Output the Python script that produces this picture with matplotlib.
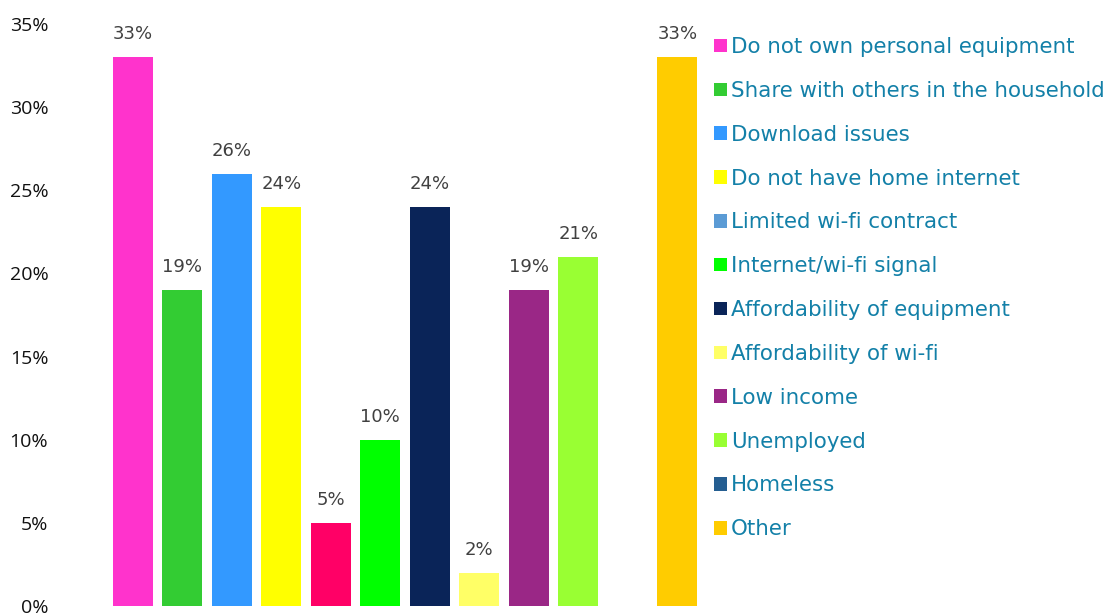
import matplotlib.pyplot as plt
from matplotlib.patches import Patch
from matplotlib.ticker import FuncFormatter

categories = ["Do not own personal equipment", "Share with others in the household",
              "Download issues", "Do not have home internet", "Limited wi-fi contract",
              "Internet/wi-fi signal", "Affordability of equipment", "Affordability of wi-fi",
              "Low income", "Unemployed", "Homeless", "Other"]
values = [33, 19, 26, 24, 5, 10, 24, 2, 19, 21, 0, 33]
bar_colors = ["#FF33CC", "#33CC33", "#3399FF", "#FFFF00", "#FF0066", "#00FF00",
              "#0A2458", "#FFFF66", "#9A2786", "#99FF33", "#255E91", "#FFCC00"]
legend_colors = ["#FF33CC", "#33CC33", "#3399FF", "#FFFF00", "#5B9BD5", "#00FF00",
                 "#0A2458", "#FFFF66", "#9A2786", "#99FF33", "#255E91", "#FFCC00"]
yticks = [0, 5, 10, 15, 20, 25, 30, 35]

fig = plt.figure(figsize=(11.12, 6.15), dpi=100)
ax = fig.add_axes([108 / 1112, 9 / 615, 594 / 1112, 582 / 615])

x = range(len(values))
bars = ax.bar(x, values, width=0.81, color=bar_colors)
for xi, v in zip(x, values):
    if v > 0:
        ax.annotate(f"{v}%", (xi, v), xytext=(0, 10), textcoords="offset points",
                    ha="center", va="bottom", fontsize=13, color="#404040")

ax.set_xlim(-0.5, len(values) - 0.5)
ax.set_ylim(0, 35)
ax.set_yticks(yticks)
ax.yaxis.set_major_formatter(FuncFormatter(lambda v, p: f"{v:.0f}%"))
ax.set_xticks([])
ax.tick_params(axis="y", length=0, pad=43, labelsize=14)
for lbl in ax.get_yticklabels():
    lbl.set_family("Open Sans")
    lbl.set_color("#111111")
for s in ax.spines.values():
    s.set_visible(False)

handles = [Patch(facecolor=c, edgecolor="none") for c in legend_colors]
leg = fig.legend(handles, categories, loc="upper left", bbox_to_anchor=(714 / 1112, 1 - 37 / 615),
                 frameon=False, fontsize=15.4, handlelength=0.6, handleheight=0.6,
                 handletextpad=0.2, labelspacing=1.115, borderaxespad=0, borderpad=0)
for t in leg.get_texts():
    t.set_color("#1380A8")

fig.savefig("out.png", dpi=100)
